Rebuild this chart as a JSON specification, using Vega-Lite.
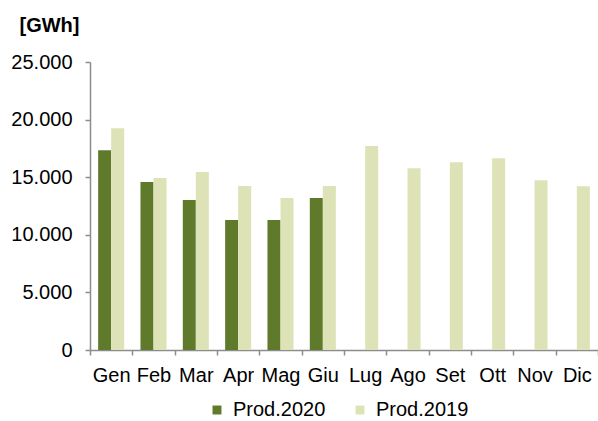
{
  "$schema": "https://vega.github.io/schema/vega-lite/v6.json",
  "width": 508,
  "height": 288,
  "autosize": {"type": "none"},
  "padding": {"left": 90, "top": 62, "right": 0, "bottom": 71},
  "background": "white",
  "data": {
    "values": [
      {"mese": "Gen", "serie": "Prod.2020", "v": 17350},
      {"mese": "Gen", "serie": "Prod.2019", "v": 19250},
      {"mese": "Feb", "serie": "Prod.2020", "v": 14580},
      {"mese": "Feb", "serie": "Prod.2019", "v": 14930},
      {"mese": "Mar", "serie": "Prod.2020", "v": 13020},
      {"mese": "Mar", "serie": "Prod.2019", "v": 15450},
      {"mese": "Apr", "serie": "Prod.2020", "v": 11290},
      {"mese": "Apr", "serie": "Prod.2019", "v": 14240},
      {"mese": "Mag", "serie": "Prod.2020", "v": 11290},
      {"mese": "Mag", "serie": "Prod.2019", "v": 13190},
      {"mese": "Giu", "serie": "Prod.2020", "v": 13190},
      {"mese": "Giu", "serie": "Prod.2019", "v": 14240},
      {"mese": "Lug", "serie": "Prod.2019", "v": 17710},
      {"mese": "Ago", "serie": "Prod.2019", "v": 15770},
      {"mese": "Set", "serie": "Prod.2019", "v": 16290},
      {"mese": "Ott", "serie": "Prod.2019", "v": 16640},
      {"mese": "Nov", "serie": "Prod.2019", "v": 14730},
      {"mese": "Dic", "serie": "Prod.2019", "v": 14210}
    ]
  },
  "mark": {"type": "bar"},
  "encoding": {
    "x": {
      "field": "mese",
      "type": "nominal",
      "sort": ["Gen","Feb","Mar","Apr","Mag","Giu","Lug","Ago","Set","Ott","Nov","Dic"],
      "scale": {"paddingInner": 0, "paddingOuter": 0},
      "axis": {
        "title": null,
        "labelAngle": 0,
        "labelFont": "Liberation Sans",
        "labelFontSize": 20,
        "labelColor": "#000000",
        "labelPadding": 10,
        "domainColor": "#8c8c8c",
        "domainWidth": 1.5,
        "tickColor": "#8c8c8c",
        "tickWidth": 1.5,
        "tickSize": 5,
        "tickBand": "extent"
      }
    },
    "xOffset": {
      "field": "serie",
      "type": "nominal",
      "sort": ["Prod.2020", "Prod.2019"],
      "scale": {"domain": ["Prod.2020", "Prod.2019"], "paddingInner": 0, "paddingOuter": 0.625}
    },
    "y": {
      "field": "v",
      "type": "quantitative",
      "scale": {"domain": [0, 25000], "nice": false},
      "axis": {
        "values": [0, 5000, 10000, 15000, 20000, 25000],
        "grid": false,
        "labelExpr": "replace(format(datum.value, ','), ',', '.')",
        "labelFont": "Liberation Sans",
        "labelFontSize": 20,
        "labelColor": "#000000",
        "labelPadding": 13,
        "domainColor": "#8c8c8c",
        "domainWidth": 1.5,
        "tickColor": "#8c8c8c",
        "tickWidth": 1.5,
        "tickSize": 5,
        "title": "[GWh]",
        "titleAngle": 0,
        "titleAlign": "left",
        "titleBaseline": "middle",
        "titleX": -71,
        "titleY": -37,
        "titleFont": "Liberation Sans",
        "titleFontSize": 20,
        "titleFontWeight": "bold",
        "titleColor": "#000000"
      }
    },
    "color": {
      "field": "serie",
      "type": "nominal",
      "scale": {"domain": ["Prod.2020", "Prod.2019"], "range": ["#5e7a2a", "#dde3b7"]},
      "legend": {
        "title": null,
        "orient": "none",
        "direction": "horizontal",
        "legendX": 117,
        "legendY": 338,
        "symbolType": "square",
        "symbolSize": 80,
        "symbolStrokeWidth": 0,
        "labelFont": "Liberation Sans",
        "labelFontSize": 20,
        "labelColor": "#000000",
        "labelOffset": 6,
        "columnPadding": 24
      }
    }
  },
  "config": {"view": {"stroke": null}}
}
